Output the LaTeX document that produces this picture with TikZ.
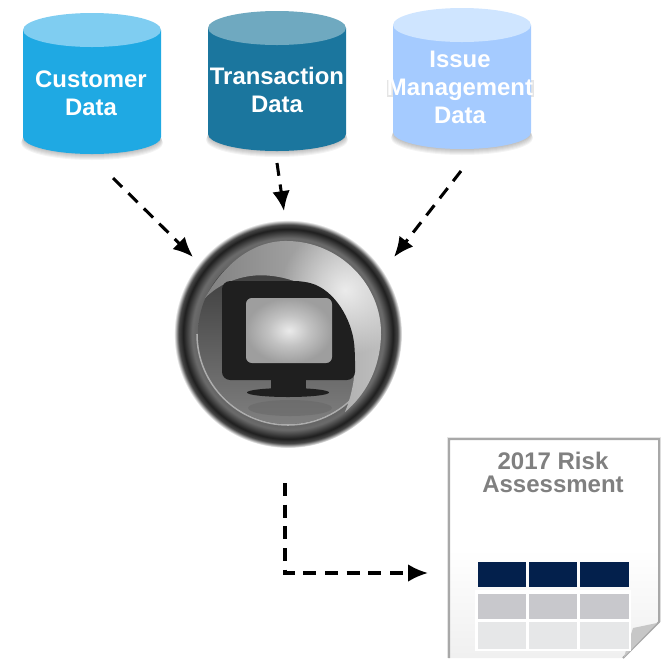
\documentclass[tikz,border=0pt]{standalone}
\usepackage{fontspec}
\setmainfont{Liberation Sans}
\usetikzlibrary{arrows.meta,fadings}

\definecolor{custside}{HTML}{1FA9E3}
\definecolor{custtop}{HTML}{7FCDF1}
\definecolor{transside}{HTML}{1B769E}
\definecolor{transtop}{HTML}{6FA9C0}
\definecolor{issueside}{HTML}{A5CBFF}
\definecolor{issuetop}{HTML}{CFE5FF}
\definecolor{tablehead}{HTML}{03204C}
\definecolor{tablemid}{HTML}{C8C8CC}
\definecolor{tablelow}{HTML}{E6E7E8}
\definecolor{doctext}{HTML}{808080}
\definecolor{docedge}{HTML}{A8A8A8}

\pgfdeclareradialshading{hubring}{\pgfpoint{0bp}{0bp}}{%
  color(0bp)=(black!62); color(19.5bp)=(black!62);
  color(21bp)=(black!58); color(23bp)=(black!88); color(24bp)=(black!72);
  color(25bp)=(white); color(50bp)=(white)}
\pgfdeclareradialshading{hubscreen}{\pgfpoint{0bp}{0bp}}{%
  color(0bp)=(black!8); color(12bp)=(black!24); color(25bp)=(black!38); color(50bp)=(black!38)}
\tikzfading[name=softspot, inner color=transparent!25, outer color=transparent!100]

\tikzset{
  flow/.style={line width=2.6pt, dash pattern=on 11pt off 7.5pt,
    -{Latex[length=17pt,width=15pt]}},
  dblabel/.style={text=white, font=\fontsize{20.4}{23.9}\selectfont\bfseries,
    align=center, inner sep=0pt},
  doclabel/.style={text=doctext, font=\fontsize{20.5}{19.6}\selectfont\bfseries,
    align=center, inner sep=0pt},
}

\begin{document}
\begin{tikzpicture}[x=0.03cm,y=-0.03cm]
  \useasboundingbox (0,0) rectangle (672,658);

  % Databases
  \foreach \cx/\ty/\by/\sidecol/\topcol in {92/30/137/custside/custtop,
      277/28/134/transside/transtop, 462/25/132/issueside/issuetop}{
    \foreach \s in {1,...,6}
      \fill[black,opacity=.045] (\cx,\by+\s) ellipse [x radius=69+\s/3, y radius=17];
    \fill[\sidecol] (\cx-69,\ty) -- (\cx-69,\by) arc [start angle=180, end angle=0,
      x radius=69, y radius=17] -- (\cx+69,\ty) -- cycle;
    \fill[\topcol] (\cx,\ty) ellipse [x radius=69, y radius=17];
  }
  \fill[black,opacity=.1] (387,80) rectangle (393,97);
  \fill[black,opacity=.1] (531,80) rectangle (534,97);
  \node[dblabel] (custdata) at (91,93) {Customer\\Data};
  \node[dblabel] (transdata) at (277,90) {Transaction\\Data};
  \node[dblabel] (issuedata) at (460,87) {Issue\\Management\\Data};

  % Hub
  \shade[shading=hubring] (288,334) circle (114);
  \shade[top color=black!80, bottom color=black!50] (288,334) circle (90);
  \draw[black!32, line width=1.3pt] (197,334) arc [start angle=180, end angle=35,
    radius=91];
  \begin{scope}
    \path[clip] (205,298)
      .. controls (225,262) and (255,240) .. (288,241)
      .. controls (340,242) and (382,285) .. (381,335)
      .. controls (380,370) and (365,395) .. (345,412)
      .. controls (358,380) and (360,340) .. (340,315)
      .. controls (320,285) and (280,272) .. (250,276)
      .. controls (230,279) and (215,288) .. (205,298);
    \shade[left color=black!50, right color=black!25] (200,235) rectangle (385,415);
    \fill[white,path fading=softspot] (345,290) circle (65);
  \end{scope}
  \fill[black!60,opacity=.5] (290,408) ellipse [x radius=42, y radius=8];
  \fill[black!88,rounded corners=7pt] (222,281) -- (303,281)
    .. controls (335,290) and (352,320) .. (355,353) -- (355,380) -- (222,380) -- cycle;
  \fill[black!88] (271,379) rectangle (306,389);
  \fill[black!88] (288,392.5) ellipse [x radius=41, y radius=4.5];
  \shade[shading=hubscreen,rounded corners=5pt] (246,298) rectangle (332,363);

  % Report page
  \draw[docedge,opacity=.3,line width=4pt] (449,658) -- (449,439) -- (659,439) -- (659,622);
  \shade[top color=white, bottom color=black!6, middle color=white, draw=docedge,
    line width=1.7pt] (449,658) -- (449,439) -- (659,439) -- (659,622) -- (623,658);
  \fill[black!22] (633,628) -- (657,623) -- (624,657) -- cycle;
  \node[doclabel] (doctitle) at (553,472) {2017 Risk\\Assessment};

  % Table
  \fill[white] (475,590) rectangle (631,651);
  \foreach \cl/\cr in {478/526,529/577,580/629}{
    \fill[tablehead] (\cl,562) rectangle (\cr,587);
    \fill[tablemid] (\cl,594) rectangle (\cr,619);
    \fill[tablelow] (\cl,622) rectangle (\cr,649);
  }

  % Connectors
  \coordinate (custout) at (113,178);
  \coordinate (custin) at (193,257);
  \coordinate (transout) at (277,163);
  \coordinate (transin) at (284,211);
  \coordinate (issueout) at (461,171);
  \coordinate (issuein) at (394,257);
  \coordinate (hubout) at (285,483);
  \coordinate (hubbend) at (285,573);
  \coordinate (docin) at (428,573);
  \draw[flow] (custout) -- (custin);
  \draw[flow] (transout) -- (transin);
  \draw[flow] (issueout) -- (issuein);
  \draw[flow] (hubout) -- (hubbend) -- (docin);
\end{tikzpicture}
\end{document}
